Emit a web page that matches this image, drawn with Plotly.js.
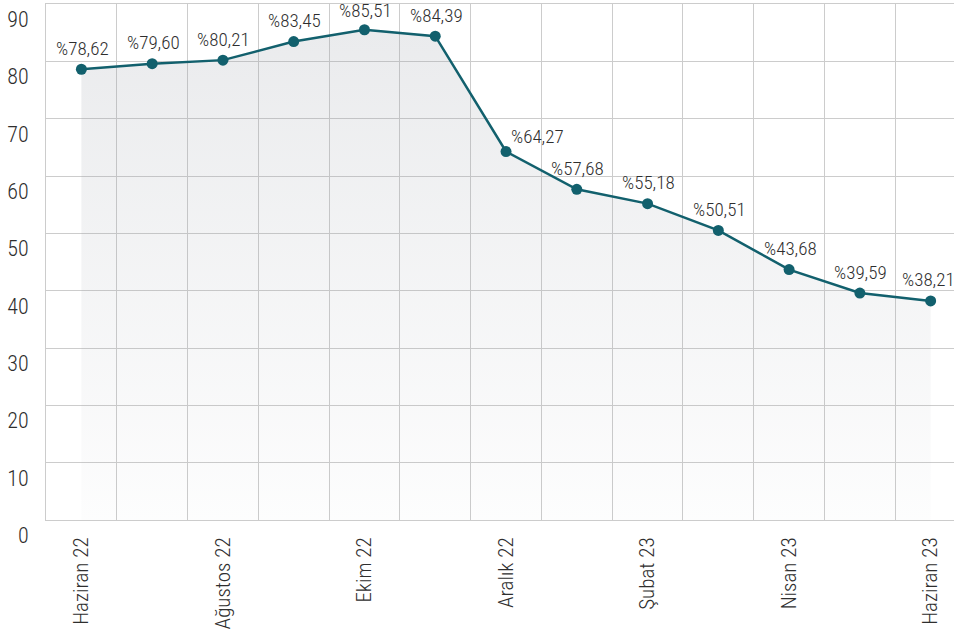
<!DOCTYPE html>
<html>
<head>
<meta charset="utf-8">
<script src="https://cdn.plot.ly/plotly-3.0.1.min.js"></script>
<style>html,body{margin:0;padding:0;background:#fff;}#chart{width:954px;height:630px;}</style>
</head>
<body>
<div id="chart"></div>
<script>
var months = ["Haziran 22","Temmuz 22","Ağustos 22","Eylül 22","Ekim 22","Kasım 22","Aralık 22","Ocak 23","Şubat 23","Mart 23","Nisan 23","Mayıs 23","Haziran 23"];
var values = [78.62, 79.60, 80.21, 83.45, 85.51, 84.39, 64.27, 57.68, 55.18, 50.51, 43.68, 39.59, 38.21];
var yTicks = [0,10,20,30,40,50,60,70,80,90];

var FONT = '"Roboto Condensed", Roboto, sans-serif';
var TEXT = '#2e2e2e';
var GRID = '#cccccc';
var LINE = '#12606d';

var xs = months.map(function(_, i){ return i; });
var shownTicks = xs.filter(function(i){ return i % 2 === 0; });

var trace = {
  type: 'scatter',
  mode: 'lines+markers',
  x: xs,
  y: values,
  line: {color: LINE, width: 2.5},
  marker: {color: LINE, size: 11},
  fill: 'tozeroy',
  fillgradient: {
    type: 'vertical',
    start: 0,
    stop: 86,
    colorscale: [[0, 'rgba(150,155,165,0.02)'], [1, 'rgba(150,155,165,0.20)']]
  },
  hoverinfo: 'skip'
};

function fmt(v){ return '%' + v.toFixed(2).replace('.', ','); }

var annotations = values.map(function(v, i){
  var dx = 1, dy = 21;
  if (i === 6) { dx = 31; dy = 15; }
  if (i === 4) { dy = 19; }
  if (i === xs.length - 1) { dx = -2; }
  return {
    x: xs[i], y: v, xref: 'x', yref: 'y',
    text: fmt(v), showarrow: false,
    xshift: dx, yshift: dy,
    font: {family: FONT, size: 19, color: TEXT, weight: 300}
  };
});

var layout = {
  width: 954, height: 630,
  margin: {l: 46, r: 0, t: 4, b: 110},
  paper_bgcolor: '#ffffff', plot_bgcolor: '#ffffff',
  showlegend: false,
  xaxis: {
    range: [-0.5, 12.33],
    tickmode: 'array',
    tickvals: shownTicks,
    ticktext: shownTicks.map(function(i){ return months[i]; }),
    tickangle: -90,
    tickfont: {family: FONT, size: 21, color: TEXT, weight: 300},
    showgrid: false,
    zeroline: false,
    showline: true, linecolor: GRID, linewidth: 1, mirror: true,
    ticks: '', ticklabelstandoff: 8,
    minor: {tick0: 0.5, dtick: 1, showgrid: true, gridcolor: GRID, gridwidth: 1, ticks: ''},
    fixedrange: true
  },
  yaxis: {
    range: [0, 90],
    tickmode: 'array',
    tickvals: yTicks,
    ticktext: yTicks.map(String),
    tickfont: {family: FONT, size: 22, color: TEXT, weight: 300},
    ticklabelposition: 'outside bottom',
    ticklabelstandoff: 12,
    showgrid: true, gridcolor: GRID, gridwidth: 1,
    zeroline: false,
    showline: true, linecolor: GRID, linewidth: 1,
    ticks: '',
    fixedrange: true
  },
  annotations: annotations
};

Plotly.newPlot('chart', [trace], layout, {displayModeBar: false, staticPlot: true});
</script>
</body>
</html>
